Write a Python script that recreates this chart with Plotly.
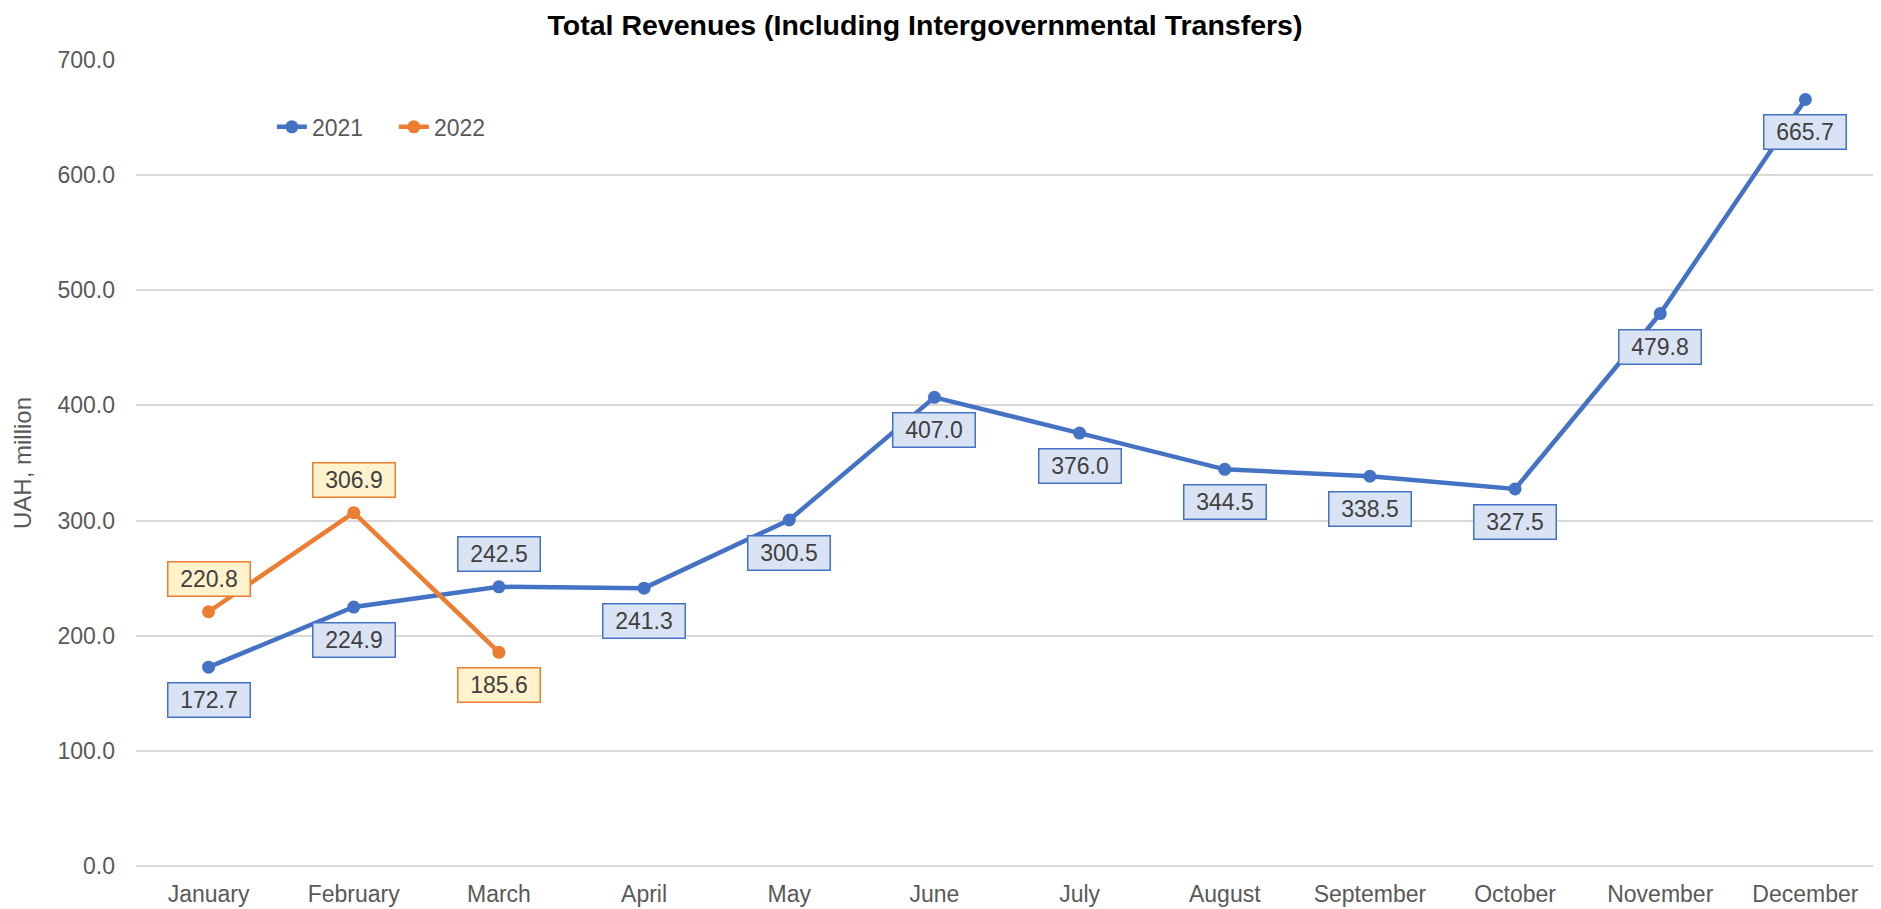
import plotly.graph_objects as go

months = ["January", "February", "March", "April", "May", "June", "July",
          "August", "September", "October", "November", "December"]
rev_2021 = [172.7, 224.9, 242.5, 241.3, 300.5, 407.0, 376.0, 344.5, 338.5, 327.5, 479.8, 665.7]
rev_2022 = [220.8, 306.9, 185.6]
# label placement: +1 above, -1 below
pos_2021 = [-1, -1, 1, -1, -1, -1, -1, -1, -1, -1, -1, -1]
pos_2022 = [1, 1, -1]

BLUE = "#4472C4"
ORANGE = "#ED7D31"
FONT = "Liberation Sans, Arial, sans-serif"
W, H = 1873, 901

fig = go.Figure()
fig.add_trace(go.Scatter(x=months, y=rev_2021, name="2021", mode="lines+markers",
                         line=dict(color=BLUE, width=4.5), marker=dict(size=13, color=BLUE)))
fig.add_trace(go.Scatter(x=months[:len(rev_2022)], y=rev_2022, name="2022", mode="lines+markers",
                         line=dict(color=ORANGE, width=4.5), marker=dict(size=13, color=ORANGE)))

annotations = []
for vals, poss, fill, border in [(rev_2021, pos_2021, "#DAE3F3", BLUE),
                                 (rev_2022, pos_2022, "#FFF2CC", ORANGE)]:
    for m, v, p in zip(months, vals, poss):
        annotations.append(dict(x=m, y=v, xref="x", yref="y", text=f"{v:.1f}",
                                showarrow=False, yshift=33 * p,
                                font=dict(family=FONT, size=23, color="#404040"),
                                bgcolor=fill, bordercolor=border, borderwidth=1.5,
                                borderpad=3, width=75, height=27))

fig.update_layout(
    width=W, height=H,
    margin=dict(l=128, r=3, t=52, b=43),
    paper_bgcolor="white", plot_bgcolor="white",
    title=dict(text="<b>Total Revenues (Including Intergovernmental Transfers)</b>",
               xref="container", x=917 / W, xanchor="center",
               yref="container", y=1 - 17 / H, yanchor="middle",
               font=dict(family=FONT, size=28.5, color="black")),
    font=dict(family=FONT, size=23, color="#595959"),
    showlegend=True,
    legend=dict(orientation="h", x=0.078, y=0.917, xanchor="left", yanchor="middle",
                font=dict(family=FONT, size=23, color="#595959"), bgcolor="rgba(0,0,0,0)",
                entrywidth=77, entrywidthmode="pixels"),
    annotations=annotations,
)
fig.update_xaxes(range=[-0.5, 11.5], showgrid=False, showline=False, ticks="",
                 ticklabelstandoff=12,
                 tickfont=dict(family=FONT, size=23, color="#595959"))
fig.update_yaxes(range=[0, 700], dtick=100, tickformat=".1f", showgrid=True,
                 gridcolor="#D9D9D9", gridwidth=1.5, zeroline=True, zerolinecolor="#D9D9D9",
                 zerolinewidth=1.5, showline=False, ticks="", ticklabelstandoff=20,
                 tickfont=dict(family=FONT, size=23, color="#595959"),
                 title=dict(text="UAH, million", standoff=19,
                            font=dict(family=FONT, size=24, color="#595959")))

fig.write_html("out.html")
